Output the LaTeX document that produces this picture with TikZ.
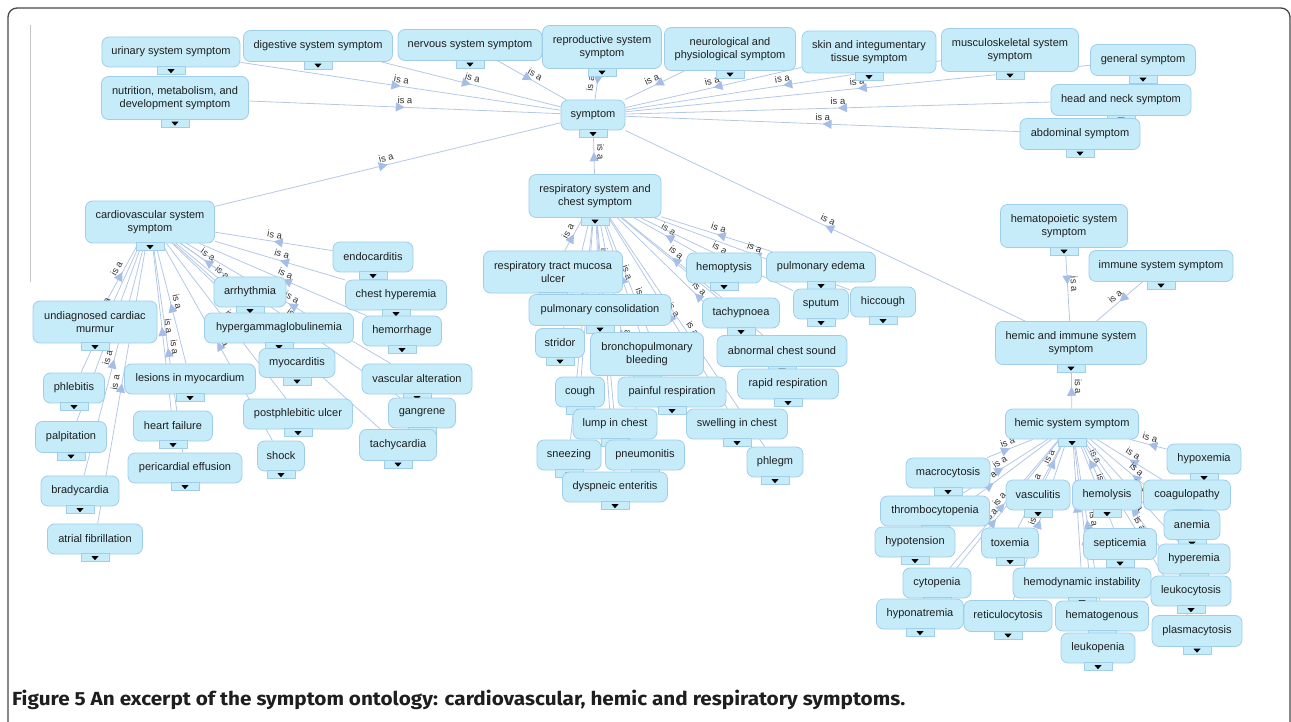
\documentclass[tikz,border=0pt]{standalone}
\usepackage{fontspec}
\setmainfont{Liberation Sans}
\newfontfamily\capfont{Fira Sans}
\usetikzlibrary{arrows.meta,decorations.markings}
\pgfdeclarelayer{background}
\pgfsetlayers{background,main}
\definecolor{boxfill}{RGB}{198,236,250}
\definecolor{boxline}{RGB}{160,205,232}
\definecolor{edgec}{RGB}{180,200,230}
\definecolor{arrowc}{RGB}{165,190,232}
\definecolor{textc}{RGB}{30,30,30}
\definecolor{labc}{RGB}{50,50,50}
\definecolor{framec}{RGB}{70,70,70}
\tikzset{
 box/.style={rounded corners=7pt, fill=boxfill, draw=boxline, line width=0.8pt, inner sep=1pt, align=center, font=\fontsize{11}{13}\selectfont, text=textc},
 tabbox/.style={fill=boxfill, draw=boxline, line width=0.6pt, minimum width=28pt, minimum height=8pt, inner sep=0pt},
 isaedge/.style={draw=edgec, line width=0.8pt, postaction=decorate, decoration={markings, mark=at position 0.5 with {\arrow[arrowc]{Triangle[length=9pt,width=9pt]}}}},
 isalab/.style={sloped, above=2pt, pos=0.5, font=\fontsize{9.5}{10}\selectfont, text=labc, inner sep=1pt}
}
\newcommand\bx[6]{%
 \node[box, minimum width=#4pt, minimum height=#5pt] (#1) at (#2,#3) {#6};
 \node[tabbox, anchor=north] (#1t) at ([yshift=1pt]#1.south) {};
 \fill[black] ([xshift=-3.5pt,yshift=1.5pt]#1t.center) -- ++(7pt,0pt) -- ++(-3.5pt,-4pt) -- cycle;
}
\newcommand\isa[2]{\draw[isaedge] (#1) -- node[isalab]{is a} (#2);}
\begin{document}
\begin{tikzpicture}[x=1pt,y=-1pt]
\useasboundingbox (0,0) rectangle (1291,722);
\begin{scope}
\clip (0,0) rectangle (1291,722);
\draw[framec, line width=1.3pt, rounded corners=9pt] (8,760) -- (8,8) -- (1290,8) -- (1290,760);
\end{scope}
\draw[gray!45, line width=1pt] (30,25) -- (30,282);
% top
\bx{urinary}{171}{52}{138}{30}{urinary system symptom}
\bx{digestive}{318}{46}{149}{31}{digestive system symptom}
\bx{nervous}{470}{45}{144}{31}{nervous system symptom}
\bx{reprod}{602}{47}{119}{43}{reproductive system\\symptom}
\bx{neuro}{730}{49}{131}{43}{neurological and\\physiological symptom}
\bx{skin}{869}{52}{134}{42}{skin and integumentary\\tissue symptom}
\bx{musculo}{1010}{50}{137}{43}{musculoskeletal system\\symptom}
\bx{general}{1143}{60}{105}{31}{general symptom}
\bx{nutrition}{175}{98}{147}{43}{nutrition, metabolism, and\\development symptom}
\bx{headneck}{1121}{100}{140}{31}{head and neck symptom}
\bx{symptom}{593}{115}{64}{30}{symptom}
\bx{abdominal}{1080}{134}{120}{31}{abdominal symptom}
% cardiovascular
\bx{cardio}{150}{222}{129}{42}{cardiovascular system\\symptom}
\bx{endocarditis}{373}{257}{80}{30}{endocarditis}
\bx{arrhythmia}{250}{292}{72}{30}{arrhythmia}
\bx{chesthyp}{396}{295}{101}{30}{chest hyperemia}
\bx{undiag}{95}{322}{124}{42}{undiagnosed cardiac\\murmur}
\bx{hypergamma}{279}{328}{149}{30}{hypergammaglobulinemia}
\bx{hemorrhage}{402}{331}{79}{30}{hemorrhage}
\bx{myocarditis}{297}{363}{76}{29}{myocarditis}
\bx{lesions}{190}{379}{131}{30}{lesions in myocardium}
\bx{vascalt}{417}{379}{110}{30}{vascular alteration}
\bx{phlebitis}{74}{388}{61}{30}{phlebitis}
\bx{gangrene}{422}{413}{67}{30}{gangrene}
\bx{postphleb}{298}{414}{109}{30}{postphlebitic ulcer}
\bx{heartfail}{173}{426}{79}{30}{heart failure}
\bx{palpitation}{71}{437}{71}{31}{palpitation}
\bx{tachycardia}{398}{445}{77}{31}{tachycardia}
\bx{shock}{281}{456}{47}{30}{shock}
\bx{pericard}{185}{468}{114}{30}{pericardial effusion}
\bx{bradycardia}{80}{491}{78}{30}{bradycardia}
\bx{atrialfib}{95}{539}{95}{30}{atrial fibrillation}
% respiratory
\bx{resp}{595}{196}{132}{43}{respiratory system and\\chest symptom}
\bx{pulmedema}{821}{267}{109}{30}{pulmonary edema}
\bx{hemoptysis}{724}{268}{75}{30}{hemoptysis}
\bx{mucosa}{553}{272}{139}{42}{respiratory tract mucosa\\ulcer}
\bx{hiccough}{883}{302}{65}{30}{hiccough}
\bx{sputum}{821}{304}{55}{30}{sputum}
\bx{pulmcons}{600}{310}{142}{31}{pulmonary consolidation}
\bx{tachypnoea}{741}{313}{77}{30}{tachypnoea}
\bx{stridor}{560}{343}{49}{29}{stridor}
\bx{abnchest}{782}{351}{130}{31}{abnormal chest sound}
\bx{broncho}{647}{354}{113}{43}{bronchopulmonary\\bleeding}
\bx{rapidresp}{788}{384}{101}{30}{rapid respiration}
\bx{cough}{580}{392}{49}{30}{cough}
\bx{painful}{672}{392}{108}{30}{painful respiration}
\bx{lump}{615}{424}{84}{30}{lump in chest}
\bx{swelling}{737}{424}{101}{30}{swelling in chest}
\bx{sneezing}{569}{455}{64}{30}{sneezing}
\bx{pneumonitis}{645}{455}{79}{30}{pneumonitis}
\bx{phlegm}{775}{462}{56}{30}{phlegm}
\bx{dyspneic}{615}{487}{105}{30}{dyspneic enteritis}
% hemic
\bx{hematop}{1064}{226}{127}{43}{hematopoietic system\\symptom}
\bx{immune}{1161}{266}{144}{31}{immune system symptom}
\bx{hemimm}{1071}{343}{151}{43}{hemic and immune system\\symptom}
\bx{hemic}{1072}{424}{133}{30}{hemic system symptom}
\bx{hypoxemia}{1204}{459}{74}{30}{hypoxemia}
\bx{macrocytosis}{948}{473}{84}{30}{macrocytosis}
\bx{vasculitis}{1038}{495}{64}{30}{vasculitis}
\bx{hemolysis}{1107}{495}{69}{30}{hemolysis}
\bx{coagulopathy}{1187}{495}{87}{30}{coagulopathy}
\bx{thrombo}{935}{511}{109}{30}{thrombocytopenia}
\bx{anemia}{1192}{525}{56}{29}{anemia}
\bx{hypotension}{915}{542}{80}{30}{hypotension}
\bx{toxemia}{1010}{543}{57}{30}{toxemia}
\bx{septicemia}{1120}{544}{73}{31}{septicemia}
\bx{hyperemia}{1194}{559}{72}{30}{hyperemia}
\bx{cytopenia}{937}{583}{68}{30}{cytopenia}
\bx{hemodyn}{1082}{583}{138}{30}{hemodynamic instability}
\bx{leukocytosis}{1191}{591}{80}{30}{leukocytosis}
\bx{hyponatremia}{920}{614}{87}{30}{hyponatremia}
\bx{reticulo}{1008}{616}{88}{31}{reticulocytosis}
\bx{hematogenous}{1102}{616}{93}{30}{hematogenous}
\bx{plasmacytosis}{1197}{631}{90}{31}{plasmacytosis}
\bx{leukopenia}{1098}{648}{74}{30}{leukopenia}
% caption
\node[anchor=base west, inner sep=0pt, text=textc] (caption) at (12,705) {\resizebox{893pt}{\height}{\capfont\bfseries\fontsize{19}{22}\selectfont Figure 5 An excerpt of the symptom ontology: cardiovascular, hemic and respiratory symptoms.}};
% edges
\begin{pgfonlayer}{background}
\foreach \c in {urinary,digestive,nervous,reprod,neuro,skin,musculo,general,nutrition,headneck,abdominal,cardio,resp,hemimm}{\isa{\c}{symptom}}
\foreach \c in {endocarditis,arrhythmia,chesthyp,undiag,hypergamma,hemorrhage,myocarditis,lesions,vascalt,phlebitis,gangrene,postphleb,heartfail,palpitation,tachycardia,shock,pericard,bradycardia,atrialfib}{\isa{\c}{cardio}}
\foreach \c in {pulmedema,hemoptysis,mucosa,hiccough,sputum,pulmcons,tachypnoea,stridor,abnchest,broncho,rapidresp,cough,painful,lump,swelling,sneezing,pneumonitis,phlegm,dyspneic}{\isa{\c}{resp}}
\foreach \c in {hematop,immune,hemic}{\isa{\c}{hemimm}}
\foreach \c in {hypoxemia,macrocytosis,vasculitis,hemolysis,coagulopathy,thrombo,anemia,hypotension,toxemia,septicemia,hyperemia,cytopenia,hemodyn,leukocytosis,hyponatremia,reticulo,hematogenous,plasmacytosis,leukopenia}{\isa{\c}{hemic}}
\end{pgfonlayer}
\end{tikzpicture}
\end{document}
